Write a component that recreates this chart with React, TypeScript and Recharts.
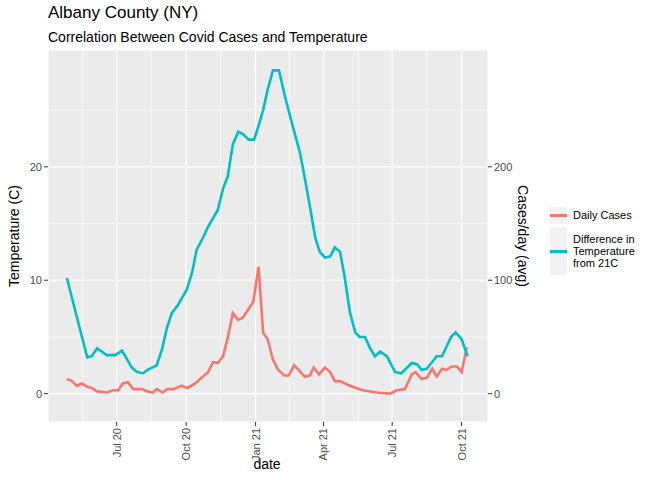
import React from 'react';
import { LineChart, Line, XAxis, YAxis, CartesianGrid, ReferenceLine } from 'recharts';

// days since 2020-04-01
const tempDays = [25, 38, 52, 58, 65, 78, 89, 98, 105, 111, 118, 126, 132, 144, 151, 158, 164, 172, 184, 191, 197, 205, 212, 225, 232, 238, 245, 252, 258, 266, 273, 278, 285, 291, 298, 306, 314, 321, 334, 340, 347, 354, 360, 367, 374, 380, 387, 393, 400, 407, 413, 420, 426, 433, 440, 449, 460, 468, 482, 489, 495, 502, 515, 522, 534, 540, 548, 556];
const tempDiff = [10.2, 6.8, 3.2, 3.3, 4.0, 3.4, 3.4, 3.8, 3.0, 2.3, 1.9, 1.8, 2.1, 2.5, 3.9, 5.9, 7.1, 7.8, 9.2, 10.7, 12.7, 13.7, 14.7, 16.2, 18.1, 19.1, 22.0, 23.1, 22.9, 22.4, 22.4, 23.4, 25.0, 26.8, 28.5, 28.5, 26.2, 24.4, 21.2, 19.1, 16.5, 13.8, 12.5, 12.0, 12.1, 12.9, 12.5, 10.3, 7.2, 5.4, 5.0, 5.0, 4.1, 3.3, 3.7, 3.3, 1.9, 1.8, 2.7, 2.6, 2.1, 2.2, 3.3, 3.3, 5.0, 5.4, 4.8, 3.3];

const caseDays = [25, 32, 38, 45, 52, 58, 65, 78, 86, 93, 99, 106, 113, 125, 131, 139, 144, 152, 158, 166, 177, 185, 195, 205, 212, 219, 225, 232, 238, 245, 252, 258, 265, 272, 279, 285, 291, 298, 305, 313, 319, 326, 332, 340, 347, 352, 359, 367, 374, 380, 387, 400, 417, 436, 453, 462, 473, 482, 487, 495, 502, 509, 515, 522, 528, 535, 542, 548, 555];
const dailyCases = [13, 11, 7, 9, 6, 5, 2, 1, 3, 3, 9, 10, 4, 4, 2, 1, 4, 1, 4, 4, 7, 5, 9, 15, 19, 28, 27, 33, 49, 71, 65, 67, 74, 81, 112, 54, 48, 30, 21, 16, 16, 25, 21, 15, 16, 23, 17, 23, 19, 11, 11, 7, 3, 1, 0, 3, 4, 17, 19, 13, 14, 22, 15, 22, 21, 24, 24, 19, 41];

const xTicks = [91, 183, 275, 365, 456, 548];
const xLabels = ['Jul 20', 'Oct 20', 'Jan 21', 'Apr 21', 'Jul 21', 'Oct 21'];
const xMinor = [46, 137, 229, 320, 411, 502];
const leftTicks = [0, 10, 20];
const leftMinor = [5, 15, 25];
const rightTicks = [0, 100, 200];

const tempData = tempDays.map((d, i) => ({ day: d, temp: tempDiff[i] }));
const caseData = caseDays.map((d, i) => ({ day: d, cases: dailyCases[i] }));

const FONT = '"Liberation Sans", Arial, sans-serif';
const tick = { fill: '#4d4d4d', fontSize: 11, fontFamily: FONT };

const XTick = (props: any) => {
    const { x, y, payload } = props;
    const idx = xTicks.indexOf(payload.value);
    return (
        <text x={x + 4} y={y} transform={`rotate(-90 ${x + 4} ${y})`} textAnchor="end" {...tick}>
            {xLabels[idx]}
        </text>
    );
};

export default function App() {
    return (
        <div style={{ position: 'absolute', left: 0, top: 0, width: 672, height: 480, background: '#fff', fontFamily: FONT }}>
            <div style={{ position: 'absolute', left: 48, top: 3, fontSize: 17, color: '#000' }}>Albany County (NY)</div>
            <div style={{ position: 'absolute', left: 48, top: 29, fontSize: 14, color: '#000' }}>Correlation Between Covid Cases and Temperature</div>
            <div style={{ position: 'absolute', left: 14, top: 236, transform: 'translate(-50%,-50%) rotate(-90deg)', fontSize: 14, whiteSpace: 'nowrap' }}>Temperature (C)</div>
            <div style={{ position: 'absolute', left: 523, top: 236, transform: 'translate(-50%,-50%) rotate(90deg)', fontSize: 14, whiteSpace: 'nowrap' }}>Cases/day (avg)</div>
            <div style={{ position: 'absolute', left: 267, top: 456, transform: 'translateX(-50%)', fontSize: 14 }}>date</div>
            <LineChart width={672} height={480} margin={{ top: 50, right: 144, bottom: 20, left: 8 }}>
                <CartesianGrid fill="#ebebeb" stroke="#ffffff" strokeWidth={1.2} yAxisId="left" />
                <XAxis dataKey="day" type="number" domain={[0, 583]} ticks={xTicks} tick={<XTick />} height={38}
                    axisLine={false} tickLine={{ stroke: '#333' }} tickSize={4} allowDuplicatedCategory={false} />
                <YAxis yAxisId="left" domain={[-2.5, 30.3]} ticks={leftTicks} width={40} tick={tick}
                    axisLine={false} tickLine={{ stroke: '#333' }} tickSize={4} />
                <YAxis yAxisId="right" orientation="right" domain={[-25, 303]} ticks={rightTicks} width={40} tick={tick}
                    axisLine={false} tickLine={{ stroke: '#333' }} tickSize={4} />
                {leftMinor.map(v => (
                    <ReferenceLine key={'h' + v} yAxisId="left" y={v} stroke="#fff" strokeWidth={0.6} />
                ))}
                {xMinor.map(v => (
                    <ReferenceLine key={'v' + v} yAxisId="left" x={v} stroke="#fff" strokeWidth={0.6} />
                ))}
                <Line yAxisId="right" data={caseData} dataKey="cases" stroke="#f8766d" strokeWidth={2.6} dot={false} isAnimationActive={false} type="linear" />
                <Line yAxisId="left" data={tempData} dataKey="temp" stroke="#00bfc4" strokeWidth={2.6} dot={false} isAnimationActive={false} type="linear" />
            </LineChart>
            <div style={{ position: 'absolute', left: 550, top: 205, fontSize: 11, color: '#000', lineHeight: '12px' }}>
                <div style={{ display: 'flex', alignItems: 'center', height: 20 }}>
                    <div style={{ width: 17, height: 17, background: '#f2f2f2', display: 'flex', alignItems: 'center' }}>
                        <div style={{ width: 17, height: 3, background: '#f8766d' }} />
                    </div>
                    <span style={{ marginLeft: 6 }}>Daily Cases</span>
                </div>
                <div style={{ display: 'flex', alignItems: 'center', marginTop: 2 }}>
                    <div style={{ width: 17, height: 48, background: '#f2f2f2', display: 'flex', alignItems: 'center' }}>
                        <div style={{ width: 17, height: 3, background: '#00bfc4' }} />
                    </div>
                    <span style={{ marginLeft: 6 }}>Difference in<br />Temperature<br />from 21C</span>
                </div>
            </div>
        </div>
    );
}
